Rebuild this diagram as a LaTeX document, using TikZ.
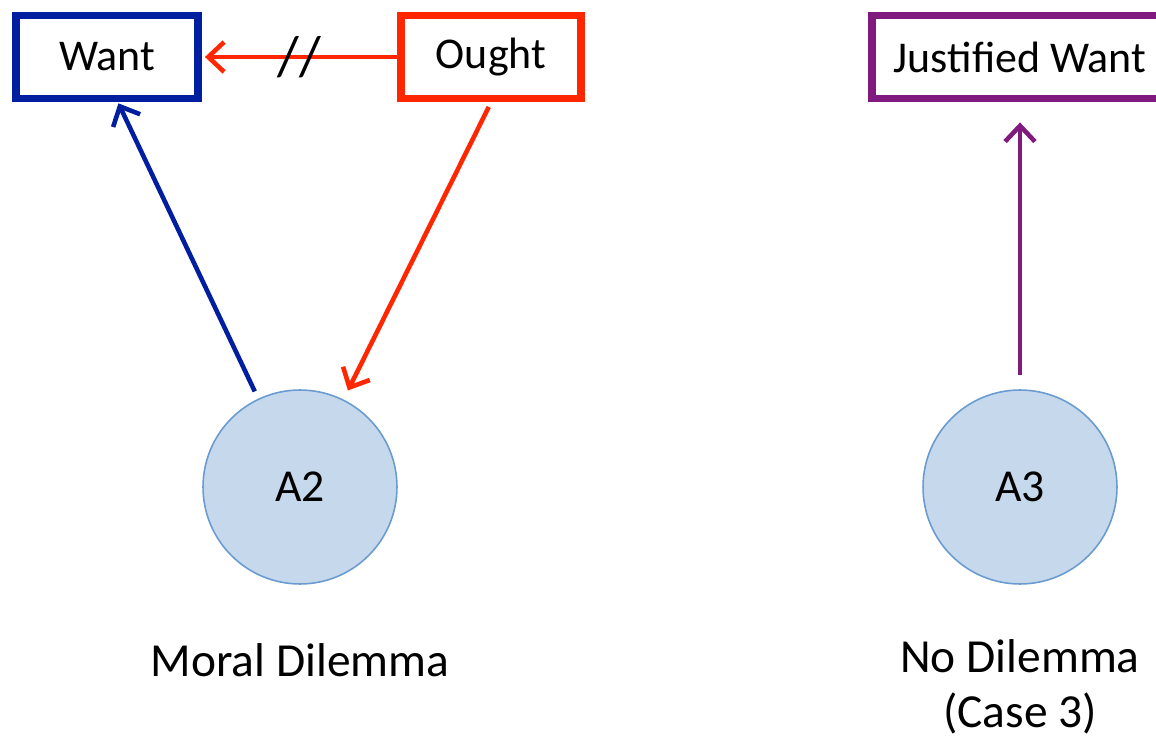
\documentclass[tikz,border=0pt]{standalone}
\usepackage{fontspec}
\setmainfont{Carlito}
\usepackage{xcolor}
\usetikzlibrary{arrows.meta, calc}

\definecolor{wantblue}{RGB}{0,30,160}
\definecolor{oughtred}{RGB}{255,38,0}
\definecolor{justpurple}{RGB}{128,26,126}
\definecolor{agentfill}{RGB}{197,216,236}
\definecolor{agentline}{RGB}{106,155,209}

\begin{document}
\begin{tikzpicture}[
    x=0.02cm, y=-0.02cm,
    every node/.style={font=\fontsize{25}{30}\selectfont},
    goal/.style={rectangle, draw, line width=4.5pt, fill=white, minimum height=1.66cm, inner sep=0pt},
    agent/.style={circle, draw=agentline, fill=agentfill, line width=0.9pt, minimum size=3.88cm, inner sep=0pt, font=\fontsize{26}{31}\selectfont},
    caption/.style={align=center, font=\fontsize{27}{31}\selectfont},
    link/.style={line width=2.6pt, -{Straight Barb[length=9pt, width=17pt, line width=2.6pt]}}
  ]

    % Frame
    \useasboundingbox (0,0) rectangle (1156,742);
    \clip (0,0) rectangle (1156,742);

    % Goals
    \node[goal, draw=wantblue, minimum width=3.64cm] (want) at (107,57) {Want};
    \node[goal, draw=oughtred, minimum width=3.6cm] (ought) at (491,57) {Ought};
    \node[goal, draw=justpurple, minimum width=5.92cm] (jwant) at (1020,57) {Justified Want};

    % Agents
    \node[agent] (a2) at (300,487) {A2};
    \node[agent] (a3) at (1020,487) {A3};

    % Captions
    \node[caption] (moral) at (300,660) {Moral Dilemma};
    \node[caption] (nodil) at (1020,687) {No Dilemma\\(Case 3)};

    % Links
    \draw[link, oughtred, shorten >=0.06cm] (ought.west) -- (want.east)
      node[midway, inner sep=0pt, text=black, font=\fontsize{32}{36}\selectfont] (cut) {//};
    \draw[link, wantblue, shorten <=0.16cm, shorten >=0.02cm] (a2) -- ($(want.south)+(11,0)$);
    \draw[link, oughtred, shorten <=0.1cm, shorten >=0.2cm] (ought.south) -- (a2);
    \draw[link, justpurple, shorten <=0.28cm, shorten >=0.4cm] (a3) -- (jwant);

  \end{tikzpicture}
\end{document}
